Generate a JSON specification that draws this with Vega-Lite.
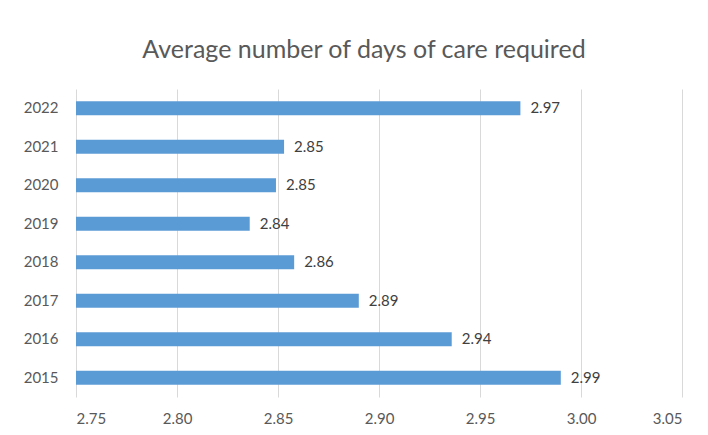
{
  "$schema": "https://vega.github.io/schema/vega-lite/v6.json",
  "width": 606,
  "height": 308,
  "autosize": {"type": "none"},
  "padding": {"left": 76, "top": 89, "right": 26, "bottom": 38},
  "background": "white",
  "config": {"view": {"stroke": null}},
  "title": {
    "text": "Average number of days of care required",
    "font": "Lato",
    "fontSize": 25,
    "fontWeight": "normal",
    "color": "#595959",
    "anchor": "middle",
    "offset": 26,
    "dx": -15
  },
  "data": {
    "values": [
      {"year": "2015", "days": 2.99},
      {"year": "2016", "days": 2.936},
      {"year": "2017", "days": 2.89},
      {"year": "2018", "days": 2.858},
      {"year": "2019", "days": 2.836},
      {"year": "2020", "days": 2.849},
      {"year": "2021", "days": 2.853},
      {"year": "2022", "days": 2.97}
    ]
  },
  "encoding": {
    "y": {
      "field": "year",
      "type": "ordinal",
      "sort": "descending",
      "scale": {"paddingInner": 0.63, "paddingOuter": 0.315},
      "axis": {
        "title": null,
        "domain": false,
        "ticks": false,
        "labelPadding": 18,
        "labelFont": "Lato",
        "labelFontSize": 15,
        "labelColor": "#595959"
      }
    },
    "x": {
      "field": "days",
      "type": "quantitative",
      "scale": {"domain": [2.75, 3.05], "zero": false, "nice": false},
      "axis": {
        "title": null,
        "values": [2.75, 2.8, 2.85, 2.9, 2.95, 3.0, 3.05],
        "format": ".2f",
        "domain": false,
        "ticks": false,
        "grid": true,
        "gridColor": "#d9d9d9",
        "gridWidth": 1,
        "labelPadding": 14,
        "labelFont": "Lato",
        "labelFontSize": 15,
        "labelColor": "#595959"
      }
    }
  },
  "layer": [
    {"mark": {"type": "bar", "color": "#5b9bd5", "clip": true}},
    {
      "mark": {"type": "text", "align": "left", "baseline": "middle", "dx": 10, "font": "Lato", "fontSize": 15, "color": "#404040"},
      "encoding": {"text": {"field": "days", "type": "quantitative", "format": ".2f"}}
    }
  ]
}
